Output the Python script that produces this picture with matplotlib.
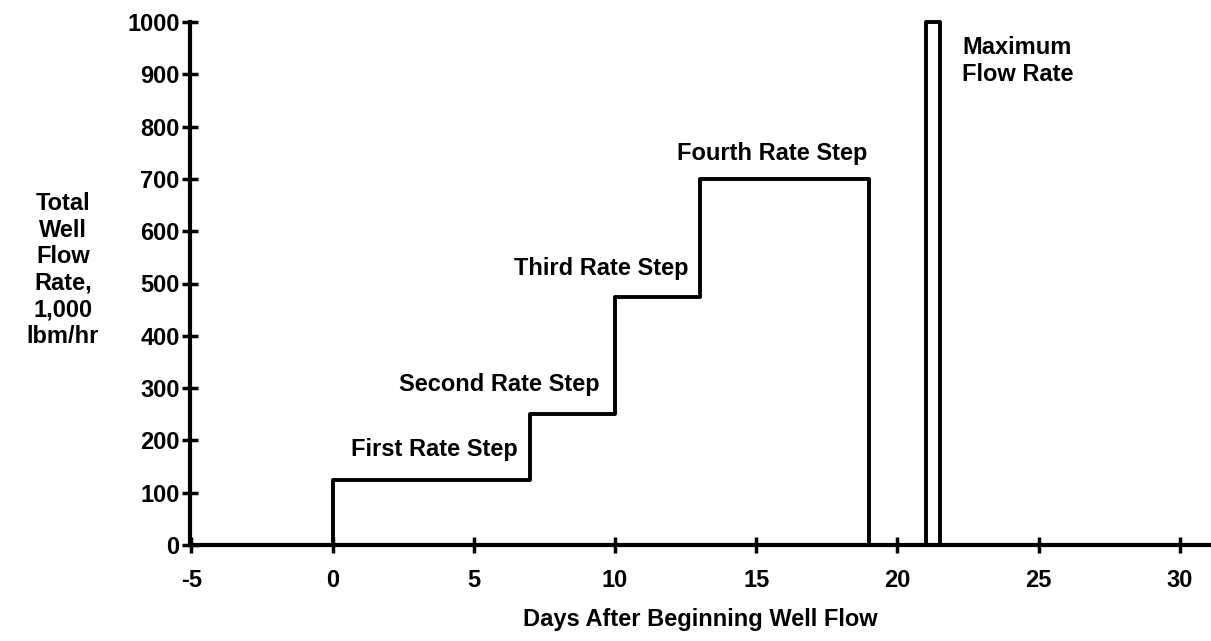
import matplotlib.pyplot as plt

# step edges (days) and flow rate (1,000 lbm/hr) held after each edge
days = [-5, 0, 7, 10, 13, 19, 21, 21.5, 31]
rate = [0, 125, 250, 475, 700, 0, 1000, 0, 0]

x_ticks = [-5, 0, 5, 10, 15, 20, 25, 30]
y_ticks = [0, 100, 200, 300, 400, 500, 600, 700, 800, 900, 1000]

plt.rcParams['font.family'] = ['Liberation Sans', 'DejaVu Sans']
plt.rcParams['font.weight'] = 'bold'
plt.rcParams['axes.unicode_minus'] = False

fig = plt.figure(figsize=(12.11, 6.41), dpi=100)
ax = fig.add_axes([190/1211, 96/641, 1 - 190/1211, (545-22)/641])

ax.step(days, rate, where='post', color='black', lw=2.8, clip_on=False)

ax.set_xlim(-5.05, 31.1)
ax.set_ylim(0, 1000)
ax.set_xticks(x_ticks)
ax.set_yticks(y_ticks)
ax.tick_params(direction='inout', length=11, width=2.5, labelsize=17)
ax.tick_params(axis='x', pad=12)
ax.tick_params(axis='y', pad=2)
for lab in ax.get_xticklabels() + ax.get_yticklabels():
    lab.set_fontweight('bold')
for s in ['top', 'right']:
    ax.spines[s].set_visible(False)
for s in ['left', 'bottom']:
    ax.spines[s].set_linewidth(3)

ax.set_xlabel('Days After Beginning Well Flow', fontsize=17, fontweight='bold', labelpad=11)
fig.text(63/1211, 1 - 270/641, 'Total\nWell\nFlow\nRate,\n1,000\nlbm/hr', ha='center', va='center',
         fontsize=17, fontweight='bold', linespacing=1.2)

tk = dict(fontsize=17, fontweight='bold', ha='center', va='center')
ax.text(3.6, 182, 'First Rate Step', **tk)
ax.text(5.9, 306, 'Second Rate Step', **tk)
ax.text(9.5, 528, 'Third Rate Step', **tk)
ax.text(15.55, 748, 'Fourth Rate Step', **tk)
ax.text(22.3, 925, 'Maximum\nFlow Rate', fontsize=17, fontweight='bold', ha='left', va='center',
        linespacing=1.2)

fig.savefig('out.png', dpi=100)
